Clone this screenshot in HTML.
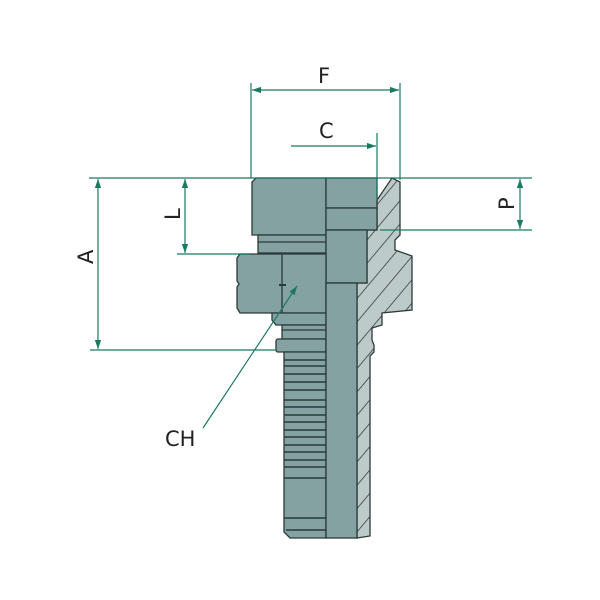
<!DOCTYPE html>
<html><head><style>body{margin:0;background:#fff}svg{display:block}text{font-family:"DejaVu Sans","Liberation Sans",sans-serif;font-size:21px;fill:#222}</style></head>
<body>
<svg width="600" height="600" viewBox="0 0 600 600" xmlns="http://www.w3.org/2000/svg">
<defs>
<pattern id="h" patternUnits="userSpaceOnUse" width="15" height="15" patternTransform="rotate(-50)">
<rect width="15" height="15" fill="#bccbc9"/><line x1="0" y1="0" x2="15" y2="0" stroke="#333" stroke-width="1.5"/>
</pattern>
<marker id="a" viewBox="0 0 10 10" refX="10" refY="5" markerWidth="9" markerHeight="9" orient="auto-start-reverse" markerUnits="userSpaceOnUse"><path d="M0,1.5 L10,5 L0,8.5Z" fill="#1a7a62"/></marker>
</defs>
<g stroke="#2b3a3a" stroke-width="1.3">
<path d="M377,200 L392,178 L400,182 L400,235 L395,240 L395,250 L412,256 L412,310 L382,313 L382,325 L372,328 L372,340 L374,345 L374,352 L370,356 L370,536 L357,538 L357,283 L367,283 L367,230 L377,230Z" fill="url(#h)"/>
<path d="M256,178 L326,178 L326,235 L252,235 L252,182Z" fill="#84a2a1"/>
<rect x="258" y="235" width="68" height="18" fill="#84a2a1"/>
<line x1="258" y1="242" x2="326" y2="242"/>
<rect x="326" y="178" width="51" height="30" fill="#84a2a1"/>
<rect x="326" y="208" width="51" height="22" fill="#84a2a1"/>
<rect x="326" y="230" width="41" height="53" fill="#84a2a1"/>
<path d="M240,254 L326,254 L326,313 L240,313 L237,308 L237,287 L239,284 L237,281 L237,258Z" fill="#84a2a1"/>
<line x1="282" y1="254" x2="282" y2="313"/>
<line x1="279" y1="285" x2="286" y2="285" stroke-width="2"/>
<path d="M272,313 L326,313 L326,325 L276,325 L272,320Z" fill="#84a2a1"/>
<rect x="282" y="325" width="44" height="14" fill="#84a2a1"/>
<line x1="282" y1="330" x2="326" y2="330"/>
<rect x="276" y="339" width="50" height="13" rx="2" fill="#84a2a1"/>
<path d="M284,352 L326,352 L326,538 L290,538 L284,532Z" fill="#84a2a1"/>
<g stroke-width="1.4">
<line x1="284" y1="360" x2="326" y2="360"/><line x1="284" y1="366" x2="326" y2="366"/>
<line x1="284" y1="374" x2="326" y2="374"/><line x1="284" y1="382" x2="326" y2="382"/>
<line x1="284" y1="390" x2="326" y2="390"/><line x1="284" y1="400" x2="326" y2="400"/>
<line x1="284" y1="407" x2="326" y2="407"/><line x1="284" y1="415" x2="326" y2="415"/>
<line x1="284" y1="422" x2="326" y2="422"/><line x1="284" y1="430" x2="326" y2="430"/>
<line x1="284" y1="437" x2="326" y2="437"/><line x1="284" y1="445" x2="326" y2="445"/>
<line x1="284" y1="452" x2="326" y2="452"/><line x1="284" y1="460" x2="326" y2="460"/>
<line x1="284" y1="467" x2="326" y2="467"/><line x1="284" y1="478" x2="326" y2="478"/>
<line x1="284" y1="518" x2="326" y2="518"/><line x1="286" y1="530" x2="326" y2="530"/>
</g>
<rect x="326" y="283" width="31" height="255" fill="#84a2a1"/>
</g>
<g stroke="#1a7a62" stroke-width="1.2" fill="none">
<line x1="251" y1="83" x2="251" y2="178"/><line x1="400" y1="83" x2="400" y2="180"/>
<line x1="252" y1="90" x2="399" y2="90" marker-start="url(#a)" marker-end="url(#a)"/>
<line x1="377" y1="133" x2="377" y2="200"/>
<line x1="291" y1="146" x2="376" y2="146" marker-end="url(#a)"/>
<line x1="89" y1="178" x2="532" y2="178"/>
<line x1="380" y1="230" x2="532" y2="230"/>
<line x1="520" y1="179" x2="520" y2="229" marker-start="url(#a)" marker-end="url(#a)"/>
<line x1="98" y1="179" x2="98" y2="349" marker-start="url(#a)" marker-end="url(#a)"/>
<line x1="185" y1="179" x2="185" y2="253" marker-start="url(#a)" marker-end="url(#a)"/>
<line x1="177" y1="254" x2="250" y2="254"/>
<line x1="90" y1="350" x2="276" y2="350"/>
<line x1="203" y1="428" x2="297" y2="286" marker-end="url(#a)"/>
</g>
<text x="318" y="83">F</text>
<text x="319" y="138">C</text>
<text x="165" y="446">CH</text>
<text transform="translate(93,264) rotate(-90)">A</text>
<text transform="translate(180,220) rotate(-90)">L</text>
<text transform="translate(514,210) rotate(-90)">P</text>
</svg>
</body></html>
